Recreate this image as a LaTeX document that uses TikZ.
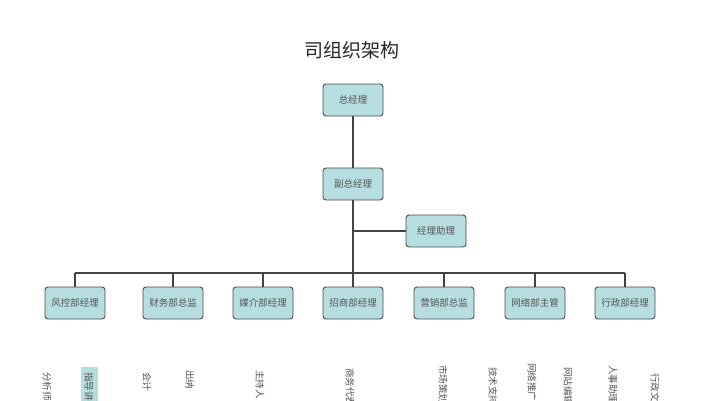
\documentclass[tikz,border=0pt]{standalone}
\usepackage{fontspec}
\setmainfont{Noto Sans CJK SC}
\usetikzlibrary{positioning}

\definecolor{boxfill}{HTML}{B6DDE0}
\definecolor{boxline}{HTML}{4A4A4A}
\definecolor{txtgray}{HTML}{555555}

\begin{document}
\begin{tikzpicture}[x=1pt,y=-1pt,
	every node/.style={font=\fontsize{9.5}{11}\selectfont,text=txtgray},
	post/.style={draw=boxline,fill=boxfill,line width=0.9pt,rounded corners=3pt,minimum width=60pt,minimum height=32pt,inner sep=0pt},
	staff/.style={rotate=-90,anchor=west,inner sep=0pt},
	link/.style={draw=boxline!90!black,line width=1.3pt}]
	\useasboundingbox (0,0) rectangle (708,400);
	\clip (0,0) rectangle (708,400);
	\node[font=\fontsize{19}{22}\selectfont,text=black!85] (title) at (352,50) {司组织架构};
	% top
	\node[post] (zjl) at (353,100) {总经理};
	\node[post] (fzjl) at (353,184) {副总经理};
	\node[post] (jlzl) at (436,231) {经理助理};
	\coordinate (bus) at (353,273);
	% departments
	\node[post] (fk) at (75,303) {风控部经理};
	\node[post] (cw) at (173,303) {财务部总监};
	\node[post] (mj) at (263,303) {媒介部经理};
	\node[post] (zs) at (353,303) {招商部经理};
	\node[post] (yx) at (444,303) {营销部总监};
	\node[post] (wl) at (535,303) {网络部主管};
	\node[post] (xz) at (625,303) {行政部经理};
	% connectors
	\draw[link] (zjl) -- (fzjl);
	\draw[link] (fzjl) -- (zs);
	\draw[link] (jlzl.west) -- (jlzl.west -| fzjl);
	\draw[link] (fk.north |- bus) -- (xz.north |- bus);
	\foreach \d in {fk,cw,mj,yx,wl,xz}
		\draw[link] (\d.north) -- (\d.north |- bus);
	% staff
	\fill[boxfill] (81,367) rectangle (98,402);
	\node[staff] (fxs) at (47,372) {分析师};
	\node[staff] (zdjs) at (89,372) {指导讲师};
	\node[staff] (kj) at (147,372) {会计};
	\node[staff] (cn) at (190,370) {出纳};
	\node[staff] (zcr) at (260,370) {主持人};
	\node[staff] (swdb) at (350,368) {商务代表};
	\node[staff] (scch) at (443,365) {市场策划};
	\node[staff] (jszc) at (493,367) {技术支持};
	\node[staff] (wltg) at (532,363) {网络推广};
	\node[staff] (wzbj) at (568,367) {网站编辑};
	\node[staff] (rszl) at (613,365) {人事助理};
	\node[staff] (xzwy) at (655,373) {行政文员};
\end{tikzpicture}
\end{document}
